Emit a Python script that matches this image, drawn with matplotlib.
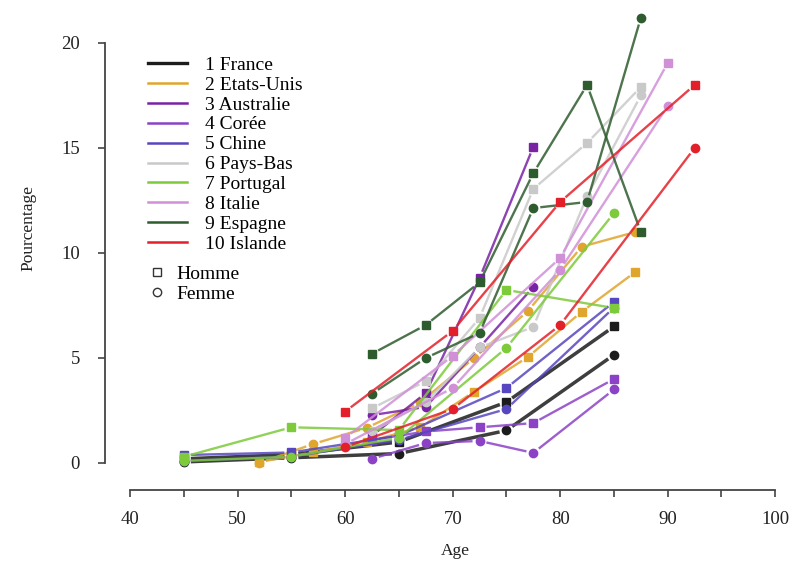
import numpy as np
import matplotlib
matplotlib.use('Agg')
import matplotlib.pyplot as plt
from matplotlib.lines import Line2D

plt.rcParams['font.family'] = ['Liberation Serif', 'DejaVu Serif']

# Data: age, % Homme (squares), % Femme (circles)
countries = ['1 France', '2 Etats-Unis', '3 Australie', '4 Corée', '5 Chine',
             '6 Pays-Bas', '7 Portugal', '8 Italie', '9 Espagne', '10 Islande']
colors = ['#1c1c1c', '#e0a52c', '#7a22a6', '#8c42c6', '#5646bf',
          '#c9c9c9', '#7dcb3a', '#d18fd8', '#2f5c2f', '#e3202a']

fr_age = [45, 55, 65, 75, 85]
fr_h = [0.2, 0.4, 1.0, 2.9, 6.5]
fr_f = [0.05, 0.25, 0.45, 1.55, 5.15]

us_age = [52, 57, 62, 67, 72, 77, 82, 87]
us_h = [0.05, 0.5, 1.0, 1.7, 3.4, 5.05, 7.2, 9.1]
us_f = [0.0, 0.9, 1.67, 2.9, 5.0, 7.24, 10.3, 11.0]

au_age = [62.5, 67.5, 72.5, 77.5]
au_h = [1.3, 3.33, 8.8, 15.05]
au_f = [2.28, 2.67, 5.5, 8.38]

ko_age = [62.5, 67.5, 72.5, 77.5, 85]
ko_h = [1.1, 1.5, 1.7, 1.9, 4.0]
ko_f = [0.2, 0.95, 1.05, 0.48, 3.5]

cn_age = [45, 55, 65, 75, 85]
cn_h = [0.38, 0.5, 1.3, 3.57, 7.67]
cn_f = [0.1, 0.3, 1.1, 2.57, 7.4]

nl_age = [62.5, 67.5, 72.5, 77.5, 82.5, 87.5]
nl_h = [2.6, 3.9, 6.9, 13.05, 15.24, 17.9]
nl_f = [1.5, 2.9, 5.5, 6.48, 12.7, 17.5]

pt_age = [45, 55, 65, 75, 85]
pt_h = [0.3, 1.7, 1.57, 8.24, 7.38]
pt_f = [0.1, 0.3, 1.2, 5.48, 11.9]

it_age = [60, 70, 80, 90]
it_h = [1.2, 5.1, 9.76, 19.05]
it_f = [0.9, 3.57, 9.2, 17.0]

es_age = [62.5, 67.5, 72.5, 77.5, 82.5, 87.5]
es_h = [5.2, 6.57, 8.6, 13.8, 18.0, 11.0]
es_f = [3.3, 5.0, 6.19, 12.14, 12.43, 21.2]

is_age = [60, 70, 80, 92.5]
is_h = [2.45, 6.29, 12.43, 18.0]
is_f = [0.76, 2.57, 6.57, 15.0]

ages = [fr_age, us_age, au_age, ko_age, cn_age, nl_age, pt_age, it_age, es_age, is_age]
hommes = [fr_h, us_h, au_h, ko_h, cn_h, nl_h, pt_h, it_h, es_h, is_h]
femmes = [fr_f, us_f, au_f, ko_f, cn_f, nl_f, pt_f, it_f, es_f, is_f]

fig = plt.figure(figsize=(7.99, 5.61), dpi=100)
ax = fig.add_axes([105 / 799, 71 / 561, 681 / 799, 478.5 / 561])
ax.set_xlim(37.67, 101)
ax.set_ylim(-1.286, 21.5)


def type_b(x, y, color, marker, lw, gap=7):
    # R style type="b": segments stop short of the points
    pts = ax.transData.transform(np.column_stack([x, y]))
    inv = ax.transData.inverted()
    for p0, p1 in zip(pts[:-1], pts[1:]):
        d = p1 - p0
        n = np.hypot(*d)
        if n <= 2 * gap:
            continue
        u = d / n
        a = inv.transform(p0 + u * gap)
        b = inv.transform(p1 - u * gap)
        ax.plot([a[0], b[0]], [a[1], b[1]], color=color, lw=lw, alpha=0.85,
                solid_capstyle='butt')
    ax.plot(x, y, ls='none', marker=marker, ms=6, color=color, mec=color)


for age, h, f, c in zip(ages, hommes, femmes, colors):
    lw = 2.5 if c == '#1c1c1c' else 1.7
    type_b(age, h, c, 's', lw)
    type_b(age, f, c, 'o', lw)

# axes in R style
for s in ['top', 'right']:
    ax.spines[s].set_visible(False)
ax.spines['left'].set_bounds(0, 20)
ax.spines['bottom'].set_bounds(40, 100)
for s in ['left', 'bottom']:
    ax.spines[s].set_color('#444444')
    ax.spines[s].set_linewidth(1.3)
ax.set_xticks(range(40, 101, 10))
ax.set_xticks(range(45, 100, 10), minor=True)
ax.set_yticks(range(0, 21, 5))
ax.tick_params(which='both', length=5, width=1.2, color='#444444',
               labelsize=13.5, labelcolor='#222222')
ax.tick_params(axis='x', pad=10)
ax.tick_params(axis='y', pad=13)

ax.set_xlabel('Age', fontsize=12.5, color='#222222')
ax.xaxis.set_label_coords(0.514, -0.11)
ax.set_ylabel('Pourcentage', fontsize=12.5, color='#222222')
ax.yaxis.set_label_coords(-0.101, 0.548)

handles = [Line2D([], [], color=c, lw=2.4 if i == 0 else 1.8)
           for i, c in enumerate(colors)]
leg1 = ax.legend(handles, countries, loc='upper left', frameon=False,
                 fontsize=14, handlelength=2.0, handletextpad=0.95,
                 labelspacing=0.12, borderpad=0, borderaxespad=0,
                 bbox_to_anchor=(148 / 799, 1 - 56 / 561),
                 bbox_transform=fig.transFigure)
ax.add_artist(leg1)

sex_handles = [Line2D([], [], ls='none', marker='s', ms=6, mfc='white', mec='#333333'),
               Line2D([], [], ls='none', marker='o', ms=6, mfc='white', mec='#333333')]
ax.legend(sex_handles, ['Homme', 'Femme'], loc='upper left', frameon=False,
          fontsize=14, handlelength=0.8, handletextpad=0.6,
          labelspacing=0.12, borderpad=0, borderaxespad=0,
          bbox_to_anchor=(149 / 799, 1 - 265 / 561),
          bbox_transform=fig.transFigure)

fig.savefig('out.png', dpi=100)
